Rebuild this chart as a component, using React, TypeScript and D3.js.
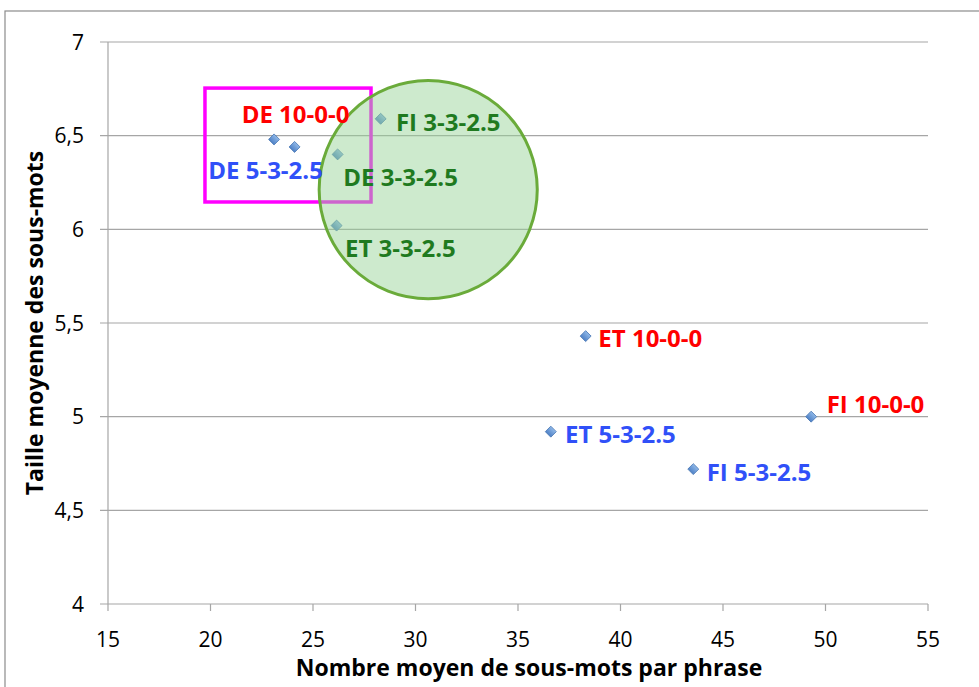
import React from "react";
import * as d3 from "d3";

// ---- data ----
const labels = ["DE 10-0-0", "DE 5-3-2.5", "DE 3-3-2.5", "FI 3-3-2.5", "ET 3-3-2.5", "ET 10-0-0", "FI 10-0-0", "ET 5-3-2.5", "FI 5-3-2.5"];
const xValues = [23.1, 24.1, 26.2, 28.3, 26.15, 38.3, 49.3, 36.6, 43.55];
const yValues = [6.48, 6.44, 6.40, 6.59, 6.02, 5.43, 5.0, 4.92, 4.72];
const groups = ["10-0-0", "5-3-2.5", "3-3-2.5", "3-3-2.5", "3-3-2.5", "10-0-0", "10-0-0", "5-3-2.5", "5-3-2.5"];
const xTicks = [15, 20, 25, 30, 35, 40, 45, 50, 55];
const yTicks = [4, 4.5, 5, 5.5, 6, 6.5, 7];
const yTickLabels = ["4", "4,5", "5", "5,5", "6", "6,5", "7"];
const xTitle = "Nombre moyen de sous-mots par phrase";
const yTitle = "Taille moyenne des sous-mots";
// annotation shapes in data units
const boxX = [19.73, 27.83];
const boxY = [6.146, 6.754];
const circleCenter = [30.62, 6.212];
const circleRadiusX = 5.32;

// ---- layout ----
const W = 979;
const H = 687;
const plot = { left: 108, right: 928, top: 42, bottom: 604 };
const labelOffsets: [number, number][] = [
  [-32.4, -16.7],
  [-86.3, 32],
  [5.7, 31.6],
  [15.3, 11.9],
  [8.4, 31],
  [12.7, 11],
  [15.5, -4],
  [14.2, 11],
  [13.4, 11.6],
];
const groupColor: Record<string, string> = {
  "10-0-0": "#ff0000",
  "5-3-2.5": "#3050f8",
  "3-3-2.5": "#1f7a1f",
};
const FONT = "'Open Sans', 'Noto Sans', sans-serif";

export default function App() {
  const x = d3.scaleLinear().domain([15, 55]).range([plot.left, plot.right]);
  const y = d3.scaleLinear().domain([4, 7]).range([plot.bottom, plot.top]);
  const diamond = d3.symbol().type(d3.symbolSquare).size(60)() as string;
  const r = x(circleCenter[0] + circleRadiusX) - x(circleCenter[0]);

  return (
    <svg
      width={W}
      height={H}
      style={{ position: "absolute", left: 0, top: 0, background: "#fff" }}
      fontFamily={FONT}
    >
      <defs>
        <linearGradient id="mk" x1="0" y1="0" x2="0" y2="1">
          <stop offset="0" stopColor="#8fb8e8" />
          <stop offset="1" stopColor="#4f81c6" />
        </linearGradient>
      </defs>
      {/* outer frame */}
      <rect x={5} y={11} width={W + 20} height={H + 20} fill="none" stroke="#8c8c8c" strokeWidth={1.2} />

      {/* gridlines */}
      {yTicks.map((t) => (
        <line key={"g" + t} x1={plot.left - 8} x2={plot.right} y1={y(t)} y2={y(t)} stroke="#a6a6a6" strokeWidth={1.2} />
      ))}
      {/* axes */}
      <line x1={plot.left} x2={plot.left} y1={plot.top} y2={plot.bottom} stroke="#a6a6a6" strokeWidth={1.2} />
      {xTicks.map((t) => (
        <line key={"xt" + t} x1={x(t)} x2={x(t)} y1={plot.bottom} y2={plot.bottom + 7} stroke="#a6a6a6" strokeWidth={1.2} />
      ))}

      {/* tick labels */}
      {xTicks.map((t) => (
        <text key={"xl" + t} x={x(t)} y={plot.bottom + 43} textAnchor="middle" fontSize={21} fill="#000">
          {t}
        </text>
      ))}
      {yTicks.map((t, i) => (
        <text key={"yl" + t} x={84} y={y(t) + 7.5} textAnchor="end" fontSize={21} fill="#000">
          {yTickLabels[i]}
        </text>
      ))}

      {/* axis titles */}
      <text x={529} y={676} textAnchor="middle" fontSize={23} fontWeight="bold" fill="#000">
        {xTitle}
      </text>
      <text
        transform={`translate(43, ${(plot.top + plot.bottom) / 2}) rotate(-90)`}
        textAnchor="middle"
        fontSize={23}
        fontWeight="bold"
        fill="#000"
      >
        {yTitle}
      </text>

      {/* markers */}
      {xValues.map((v, i) => (
        <path
          key={"m" + i}
          d={diamond}
          transform={`translate(${x(v)}, ${y(yValues[i])}) rotate(45)`}
          fill="url(#mk)"
          stroke="#4a78b5"
          strokeWidth={0.8}
        />
      ))}

      {/* annotations */}
      <rect
        x={x(boxX[0])}
        y={y(boxY[1])}
        width={x(boxX[1]) - x(boxX[0])}
        height={y(boxY[0]) - y(boxY[1])}
        fill="none"
        stroke="#ff00ff"
        strokeWidth={3.5}
      />
      <circle
        cx={x(circleCenter[0])}
        cy={y(circleCenter[1])}
        r={r}
        fill="rgba(150, 212, 150, 0.48)"
        stroke="#6aab3a"
        strokeWidth={3}
      />

      {/* data labels */}
      {labels.map((l, i) => (
        <text
          key={"t" + i}
          x={x(xValues[i]) + labelOffsets[i][0]}
          y={y(yValues[i]) + labelOffsets[i][1]}
          fontSize={24}
          fontWeight="bold"
          fill={groupColor[groups[i]]}
        >
          {l}
        </text>
      ))}
    </svg>
  );
}
